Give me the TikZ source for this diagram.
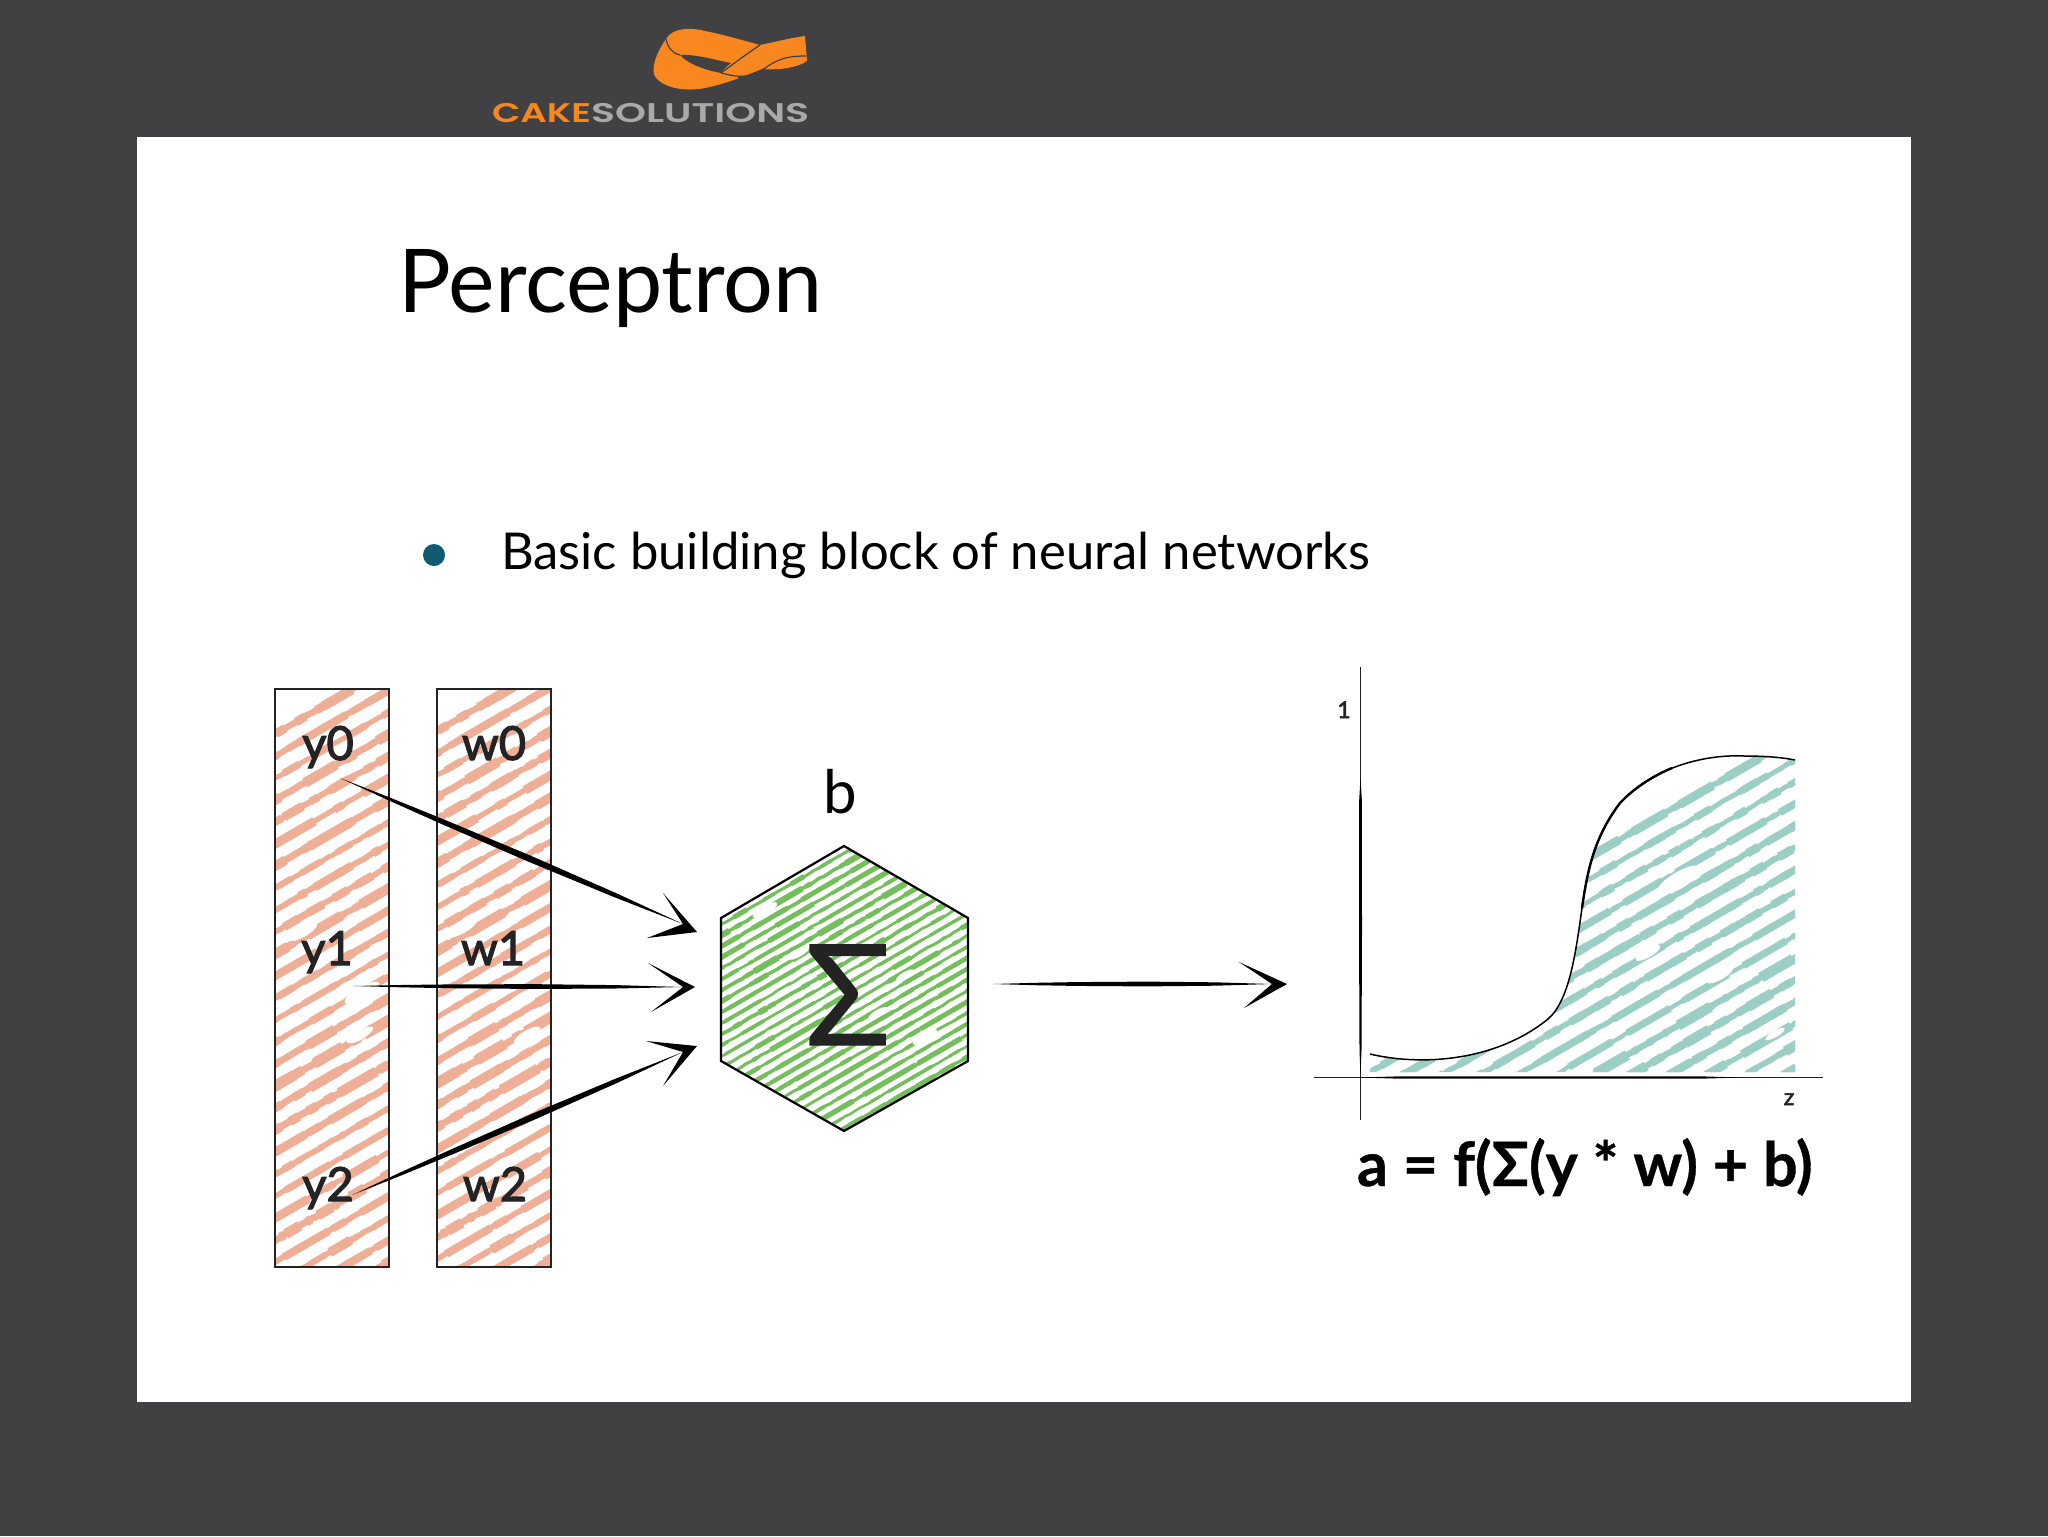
\documentclass[tikz,border=0pt]{standalone}
\usepackage{fontspec}
\usepackage{graphicx}
\setmainfont{Lato}
\newfontfamily\logofont{Poppins}[UprightFont=*-SemiBold]
\newfontfamily\semifont{Lato}[RawFeature={embolden=2.4}]
\newfontfamily\sigmafont{Lato}[RawFeature={embolden=1}]
\newfontfamily\heavyfont{Lato}[UprightFont=*-Bold,RawFeature={embolden=0.6}]
\usetikzlibrary{calc,decorations.pathmorphing}
\definecolor{slidebg}{HTML}{414042}
\definecolor{hatchred}{HTML}{EFAE96}
\definecolor{hatchgreen}{HTML}{74BF5B}
\definecolor{hatchteal}{HTML}{9BCFC6}
\definecolor{cakeorange}{HTML}{F7871E}
\definecolor{cakegrey}{HTML}{A9A9AA}
\definecolor{bulletblue}{HTML}{0F5B73}
\definecolor{labelink}{HTML}{232323}
\tikzset{
  x=0.5pt,y=-0.5pt,
  txt/.style={inner sep=0pt,outer sep=0pt,anchor=base west},
  ctxt/.style={inner sep=0pt,outer sep=0pt,anchor=base,text=labelink},
  barbox/.style={draw=labelink,line width=1.1pt,minimum width=57pt,minimum height=289pt,inner sep=0pt,outer sep=0pt},
  rough/.style={decorate,decoration={random steps,segment length=3pt,amplitude=0.22pt}},
}
% colour, x0, x1, first y, next y, last y, width(px)
\newcommand{\hatchlines}[7]{%
  \pgfmathsetseed{#6 7}%
  \foreach \yy in {#4,#5,...,#6}{%
    \pgfmathsetmacro{\ww}{0.5*#7*(0.65+0.35*rnd)}%
    \pgfmathsetmacro{\wb}{\ww*(1.25+0.5*rnd)}%
    \pgfmathsetmacro{\wc}{\ww*(1.1+0.4*rnd)}%
    \pgfmathsetmacro{\yb}{\yy-0.58*(#3-#2)}%
    \pgfmathsetmacro{\ona}{4+26*rnd}%
    \pgfmathsetmacro{\offa}{6+34*rnd}%
    \pgfmathsetmacro{\phs}{60*rnd}%
    \pgfmathsetmacro{\onb}{2+7*rnd}%
    \pgfmathsetmacro{\offb}{5+14*rnd}%
    \draw[#1,line width=\ww pt,rough] (#2,\yy) -- (#3,\yb);
    \draw[#1,line width=\wb pt,dash pattern=on \ona pt off \offa pt,dash phase=\phs pt] (#2,\yy) -- (#3,\yb);
    \draw[#1,line width=\wc pt,dash pattern=on \onb pt off \offb pt,dash phase=\phs pt] (#2,\yy) -- (#3,\yb);
  }%
}
\newcommand{\blot}[3]{\fill[white,rotate around={30:(#1,#2)}] (#1,#2) ellipse [x radius=#3,y radius=0.3*#3];}
% start, notch, tip, barb1, barb2, half width
\newcommand{\sketcharrow}[6]{%
  \fill[black] (#1) -- ($(#1)!0.15!(#2)!0.5*#6!90:(#2)$) -- ($(#1)!0.3!(#2)!0.8*#6!90:(#2)$) -- ($(#1)!0.55!(#2)!#6!90:(#2)$) -- ($(#1)!0.8!(#2)!0.7*#6!90:(#2)$) -- (#2)
    -- ($(#1)!0.8!(#2)!0.7*#6!-90:(#2)$) -- ($(#1)!0.55!(#2)!#6!-90:(#2)$) -- ($(#1)!0.3!(#2)!0.8*#6!-90:(#2)$) -- ($(#1)!0.15!(#2)!0.5*#6!-90:(#2)$) -- cycle;
  \fill[black] (#4) -- (#3) -- (#5) -- (#2) -- cycle;
}
\begin{document}
\begin{tikzpicture}
\fill[slidebg] (0,0) rectangle (2048,1536);
\useasboundingbox (0,0) rectangle (2048,1536);
\fill[white] (137,137) rectangle (1911,1402);

% logo
\fill[cakeorange] (666,39) .. controls (672,28) and (690,27) .. (705,31)
  .. controls (725,35) and (745,41) .. (760,45)
  .. controls (775,42) and (790,38) .. (805,36)
  -- (807,61) .. controls (795,69) and (775,70) .. (762,69)
  .. controls (745,76) and (725,84) .. (705,88)
  .. controls (685,92) and (665,88) .. (656,78)
  .. controls (650,71) and (655,55) .. (666,39) -- cycle;
\fill[slidebg] (680,55) .. controls (695,54) and (715,60) .. (731,63)
  .. controls (727,66) and (723,70) .. (721,73)
  .. controls (705,70) and (688,64) .. (680,55) -- cycle;
\draw[slidebg,line width=0.6pt] (666,39) .. controls (668,48) and (672,53) .. (680,55);
\draw[slidebg,line width=0.6pt] (760,45) .. controls (745,55) and (732,65) .. (721,73);
\draw[slidebg,line width=0.6pt] (806,56) .. controls (790,56) and (780,58) .. (768,66) .. controls (760,72) and (750,75) .. (738,78);
\draw[slidebg,line width=0.6pt] (721,73) .. controls (730,75) and (735,77) .. (746,76);
\node[txt] (logo) at (492,122) {\logofont\fontsize{13.5}{14}\selectfont\scalebox{1.37}[1]{\textcolor{cakeorange}{CAKE}}\scalebox{1.46}[1]{\textcolor{cakegrey}{SOLUTIONS}}};

% title and bullet
\node[txt] (title) at (398,312) {\fontsize{44}{48}\selectfont Perceptron};
\fill[bulletblue] (434,555) circle [radius=11];
\node[txt] (body) at (501,569) {\fontsize{25.4}{30}\selectfont Basic building block of neural networks};

% bars
\begin{scope}
  \clip (275,689) rectangle (389,1267);
  \hatchlines{hatchred}{265}{400}{740}{762}{1400}{7}
  \blot{303}{932}{16}\blot{362}{993}{20}\blot{360}{1035}{15}\blot{330}{1000}{12}
\end{scope}
\begin{scope}
  \clip (437,689) rectangle (551,1267);
  \hatchlines{hatchred}{427}{562}{737}{759}{1400}{7}
  \blot{463}{928}{16}\blot{522}{998}{17}\blot{527}{1035}{15}
\end{scope}
\node[barbox] (ybar) at (332,978) {};
\node[barbox] (wbar) at (494,978) {};
\foreach \nm/\lab/\xx/\yy in {ny0/y0/328/760,nw0/w0/494/760,ny1/y1/327/965,nw1/w1/493/965,ny2/y2/328/1201,nw2/w2/495/1201}
  \node[ctxt] (\nm) at (\xx,\yy) {\semifont\fontsize{23.5}{26}\selectfont\lab};

% hexagon
\begin{scope}
  \clip (844,846) -- (968,918) -- (968,1061) -- (844,1131) -- (721,1061) -- (721,918) -- cycle;
  \hatchlines{hatchgreen}{710}{980}{920}{931}{1215}{3.8}
  \blot{765}{910}{14}\blot{925}{1037}{14}\blot{878}{1013}{11}\blot{799}{953}{12}\blot{905}{975}{10}
\end{scope}
\draw[black,line width=1.1pt,line join=miter] (844,846) -- (968,918) -- (968,1061) -- (844,1131) -- (721,1061) -- (721,918) -- cycle;
\node[ctxt] (sigma) at (848,1045) {\sigmafont\fontsize{70}{78}\selectfont Σ};
\node[ctxt] (bias) at (840,813) {\fontsize{30}{34}\selectfont\color{black} b};

% arrows into the hexagon
\coordinate (a1s) at (340,778); \coordinate (a1n) at (683,924); \coordinate (a1t) at (697,932);
\coordinate (a1b) at (663,893); \coordinate (a1c) at (647,938);
\coordinate (a2s) at (353,986); \coordinate (a2n) at (683,987); \coordinate (a2t) at (695,987);
\coordinate (a2b) at (648,963); \coordinate (a2c) at (651,1012);
\coordinate (a3s) at (352,1195); \coordinate (a3n) at (683,1052); \coordinate (a3t) at (697,1046);
\coordinate (a3b) at (646,1041); \coordinate (a3c) at (663,1086);
\coordinate (a4s) at (993,984); \coordinate (a4n) at (1272,984); \coordinate (a4t) at (1287,984);
\coordinate (a4b) at (1239,962); \coordinate (a4c) at (1244,1008);
\sketcharrow{a1s}{a1n}{a1t}{a1b}{a1c}{1.6pt}
\sketcharrow{a2s}{a2n}{a2t}{a2b}{a2c}{1.2pt}
\sketcharrow{a3s}{a3n}{a3t}{a3b}{a3c}{1.6pt}
\sketcharrow{a4s}{a4n}{a4t}{a4b}{a4c}{1.2pt}

% chart: fill
\begin{scope}
  \clip (1370,1054) .. controls (1420,1066) and (1495,1062) .. (1548,1019)
    .. controls (1570,1000) and (1576,950) .. (1582,908)
    .. controls (1588,865) and (1596,835) .. (1620,803)
    .. controls (1650,770) and (1700,754) .. (1744,756)
    .. controls (1762,756) and (1780,757) .. (1795,760)
    -- (1795,1072) -- (1370,1072) -- cycle;
  \hatchlines{hatchteal}{1360}{1805}{990}{1012}{1350}{6.5}
  \blot{1679}{879}{24}\blot{1648}{953}{14}\blot{1720}{975}{15}\blot{1775}{1034}{11}\blot{1640}{880}{12}
\end{scope}
% chart: axes
\coordinate (yaT) at (1360.5,667); \coordinate (yaB) at (1360.5,1120);
\coordinate (xaL) at (1314,1077.5); \coordinate (xaR) at (1823,1077.5);
\draw[labelink,line width=0.35pt] (yaT) -- (yaB);
\draw[labelink,line width=0.35pt] (xaL) -- (xaR);
\fill[black] (1360.5,777) -- (1361.8,800) -- (1362,930) -- (1361.5,1050) -- (1360.5,1077) -- (1359.5,1050) -- (1359,930) -- (1359.2,800) -- cycle;
\fill[black] (1360,1077.5) -- (1400,1076.3) -- (1700,1076.3) -- (1740,1077.5) -- (1700,1078.7) -- (1400,1078.7) -- cycle;
% chart: curve
\draw[black,line width=0.75pt] (1370,1054) .. controls (1420,1066) and (1495,1062) .. (1548,1019)
    .. controls (1570,1000) and (1576,950) .. (1582,908)
    .. controls (1588,865) and (1596,835) .. (1620,803)
    .. controls (1650,770) and (1700,754) .. (1744,756)
    .. controls (1762,756) and (1780,757) .. (1795,760);
\draw[black,line width=1.2pt] (1582,908) .. controls (1588,865) and (1596,835) .. (1620,803)
    .. controls (1635,787) and (1655,775) .. (1672,768);
\node[ctxt] (one) at (1344,718) {\semifont\fontsize{11.5}{13}\selectfont 1};
\node[ctxt] (zed) at (1789,1105) {\semifont\fontsize{11.5}{13}\selectfont z};
\node[txt] (formula) at (1357,1186) {\heavyfont\fontsize{30.5}{34}\selectfont a = f(Σ(y * w) + b)};
\end{tikzpicture}
\end{document}
